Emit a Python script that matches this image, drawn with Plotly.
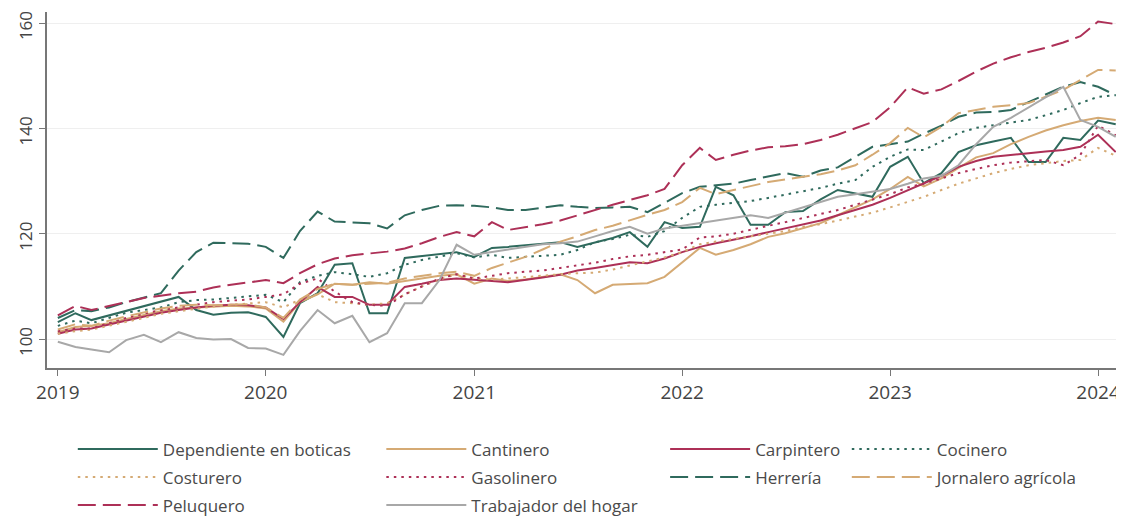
import pandas as pd
import plotly.graph_objects as go

dates = pd.date_range("2019-01-01", periods=62, freq="MS")

dependiente = [103.2, 104.9, 103.6, 104.5, 105.3, 106.2, 107, 108, 105.5, 104.6, 105, 105.1,
               104.2, 100.4, 106.8, 108.7, 114.1, 114.4, 104.9, 104.9, 115.4, 115.8, 116.2, 116.5,
               115.6, 117.3, 117.5, 117.8, 118.1, 118.4, 117.5, 118.4, 119.2, 120.3, 117.5, 122.2,
               121.1, 121.3, 128.9, 127.3, 121.7, 121.7, 124.1, 124.3, 126.5, 128.3, 127.7, 127,
               132.7, 134.6, 129.6, 131.5, 135.5, 136.8, 137.5, 138.2, 133.6, 133.6, 138.2, 137.8,
               141.5, 140.8]
cantinero = [101.3, 102.3, 102.5, 103, 103.8, 104.5, 105.3, 105.8, 106, 106.2, 106.3, 106.2,
             105.8, 103.3, 107, 108.5, 110.5, 110.3, 110.8, 110.5, 111, 111.5, 112, 112.3,
             110.5, 111.5, 111, 111.3, 111.8, 112.3, 111.2, 108.7, 110.3, 110.5, 110.6, 111.8,
             114.6, 117.3, 116, 116.9, 118, 119.4, 120.1, 121, 122, 123.5, 125, 126.5,
             128.5, 130.8, 129, 130.5, 132.5, 134.5, 135.3, 137, 138.4, 139.6, 140.6, 141.4,
             142, 141.6]
carpintero = [101, 101.8, 102, 102.8, 103.5, 104.3, 105, 105.5, 106, 106.3, 106.5, 106.4,
              106, 103.8, 107, 109.9, 108, 108, 106.5, 106.5, 109.9, 110.5, 111.2, 111.5,
              111.2, 111, 110.8, 111.2, 111.7, 112.2, 113, 113.5, 114, 114.6, 114.4, 115.3,
              116.5, 117.5, 118.2, 118.8, 119.5, 120.3, 121, 121.8, 122.5, 123.5, 124.5, 125.5,
              126.8, 128.3, 129.6, 131, 132.7, 133.8, 134.6, 135, 135.3, 135.6, 135.9, 136.5,
              138.8, 135.5]
cocinero = [102.5, 103.5, 103, 104, 105, 105.5, 106, 107, 107.4, 107.5, 107.8, 108,
            108.4, 107, 110.8, 112, 112.7, 112.3, 111.8, 112.5, 114.1, 115, 115.6, 116.3,
            115.5, 116, 115.4, 115.6, 115.8, 116, 116.9, 118.4, 119, 119.8, 119.4, 120.5,
            123, 125.1, 125.5, 125.8, 126.2, 126.8, 127.4, 128, 128.7, 129.5, 130.2, 132.7,
            134.6, 136, 135.9, 137.5, 139.1, 140.1, 140.6, 141.2, 141.6, 142.5, 143.5, 144.8,
            146, 146.3]
costurero = [101, 101.5, 101.8, 102.5, 103.3, 104, 104.8, 105.3, 105.8, 106.2, 106.5, 106.8,
             107, 106, 107.5, 108.5, 107, 106.8, 106.5, 106.8, 108.5, 110, 111.3, 112.3,
             111.5, 111.3, 111.5, 111.8, 112, 112.3, 112.5, 112.6, 113.2, 114, 114.8, 115.5,
             116.5, 118, 118.5, 119, 119.5, 120, 120.5, 121.3, 121.8, 122.5, 123.2, 124,
             125, 126, 127, 128.3, 129.5, 130.5, 131.5, 132.3, 133, 133.4, 133.8, 134,
             136.3, 134.8]
gasolinero = [101.5, 102, 102, 103, 104, 104.8, 105.5, 106, 106.5, 107, 107.3, 107.5,
              108, 108.5, 110.5, 111.5, 109, 107, 106.5, 106.3, 108.5, 110, 111.5, 112.3,
              111.5, 112, 112.5, 112.8, 113, 113.5, 114, 114.5, 115.2, 115.7, 116, 116.5,
              117, 119.3, 119.5, 120, 120.8, 121.5, 122.2, 123, 123.8, 124.5, 125.5, 126.5,
              127.5, 128.8, 129.5, 130.5, 131.5, 132.3, 133, 133.5, 133.8, 134, 133, 135,
              140.5, 138.7]
herreria = [104, 105.5, 105.3, 106, 107, 107.8, 108.7, 113, 116.5, 118.3, 118.2, 118.1,
            117.5, 115.4, 120.5, 124.2, 122.3, 122.2, 122, 121, 123.5, 124.5, 125.3, 125.4,
            125.3, 125, 124.5, 124.5, 125, 125.4, 125.1, 124.9, 125, 125.1, 124.1, 125.8,
            127.7, 128.9, 129.2, 129.5, 130.2, 130.8, 131.5, 130.8, 132, 132.6, 134.6, 136.5,
            137, 137.5, 139, 140.5, 142.2, 143, 143.1, 143.5, 145, 146.5, 147.9, 148.8,
            147.9, 146.3]
jornalero = [101.8, 102.8, 102.5, 103.5, 104.3, 105, 105.8, 106.3, 106.5, 106.4, 106.5, 106.6,
             106, 104, 107.5, 109.5, 110.5, 110.3, 110.5, 110.7, 111.5, 112, 112.5, 112.8,
             112, 113.5, 114.5, 115.6, 117, 118.5, 119.5, 120.7, 121.5, 122.6, 123.6, 124.5,
             126, 128.7, 127.5, 128.3, 129, 129.8, 130.3, 130.8, 131.3, 132, 133, 135,
             137.2, 140.1, 138.3, 140.3, 142.9, 143.5, 144.1, 144.4, 144.8, 146, 147.3, 149.2,
             151.1, 151]
peluquero = [104.5, 106.3, 105.5, 106.2, 107, 107.8, 108.3, 108.7, 109, 109.8, 110.3, 110.7,
             111.2, 110.6, 112.5, 114.2, 115.3, 115.9, 116.3, 116.6, 117.2, 118.2, 119.4, 120.3,
             119.5, 122.2, 120.7, 121.2, 121.8, 122.5, 123.5, 124.4, 125.5, 126.4, 127.3, 128.5,
             133, 136.3, 134, 135, 135.8, 136.4, 136.6, 137, 137.8, 138.8, 140, 141.2,
             144, 147.8, 146.6, 147.4, 149, 150.8, 152.3, 153.5, 154.5, 155.3, 156.3, 157.5,
             160.3, 159.8]
trabajador = [99.5, 98.5, 98, 97.5, 99.8, 100.8, 99.4, 101.3, 100.2, 99.9, 100, 98.3,
              98.2, 97, 101.5, 105.5, 103, 104.4, 99.4, 101.1, 106.8, 106.8, 111.2, 117.9,
              116, 116.5, 117, 117.5, 118, 118.2, 118.5, 119.5, 120.5, 121.3, 120, 121,
              121.5, 122, 122.5, 123, 123.5, 123, 124, 125, 126, 127, 127.5, 128,
              128.5, 129.5, 130.5, 131, 133, 137, 140.3, 142, 144, 146, 147.9, 141.6,
              140.3, 138.4]

TEAL = "#2f6a5d"
TAN = "#d5aa74"
CRIMSON = "#ad3057"
GRAY = "#a8a8a8"
SOLID = "solid"
DOT = "2.5px,5px"
DASH = "18px,7px"

series = [
    ("Dependiente en boticas", dependiente, TEAL, SOLID, "legend"),
    ("Cantinero", cantinero, TAN, SOLID, "legend2"),
    ("Carpintero", carpintero, CRIMSON, SOLID, "legend3"),
    ("Cocinero", cocinero, TEAL, DOT, "legend4"),
    ("Costurero", costurero, TAN, DOT, "legend"),
    ("Gasolinero", gasolinero, CRIMSON, DOT, "legend2"),
    ("Herrería", herreria, TEAL, DASH, "legend3"),
    ("Jornalero agrícola", jornalero, TAN, DASH, "legend4"),
    ("Peluquero", peluquero, CRIMSON, DASH, "legend"),
    ("Trabajador del hogar", trabajador, GRAY, SOLID, "legend2"),
]

fig = go.Figure()
for name, vals, col, dash, leg in series:
    fig.add_trace(go.Scatter(
        x=dates, y=vals, mode="lines", name=name, legend=leg, legendgroup=name,
        line=dict(color=col, width=2, dash=dash),
    ))

FONT = "Open Sans"
leg_common = dict(orientation="v", yanchor="top", y=-0.178, xanchor="left",
                  bgcolor="rgba(0,0,0,0)", font=dict(family=FONT, size=17, color="#4a4a4a"),
                  itemwidth=80, tracegroupgap=3, traceorder="grouped")

fig.update_layout(
    width=1116, height=508,
    margin=dict(l=39, r=2, t=4, b=148, autoexpand=False),
    plot_bgcolor="white", paper_bgcolor="white",
    font=dict(family=FONT, size=16, color="#444444"),
    showlegend=True,
    legend=dict(x=0.024, **leg_common),
    legend2=dict(x=0.311, **leg_common),
    legend3=dict(x=0.575, **leg_common),
    legend4=dict(x=0.744, **leg_common),
    xaxis=dict(
        type="date", range=["2018-12-13", "2024-02-12"],
        tickvals=["2019-01-01", "2020-01-01", "2021-01-01", "2022-01-01", "2023-01-01", "2024-01-01"],
        ticktext=["2019", "2020", "2021", "2022", "2023", "2024"],
        showgrid=False, showline=True, linecolor="#777777", linewidth=1.5,
        ticks="outside", ticklen=6, tickcolor="#777777", automargin=False,
        ticklabeloverflow="allow",
        tickfont=dict(size=19, color="#444444"), zeroline=False,
    ),
    yaxis=dict(
        range=[94.5, 162.1], tickvals=[100, 120, 140, 160],
        showgrid=True, gridcolor="#efefef", gridwidth=1,
        showline=True, linecolor="#777777", linewidth=1.5,
        ticks="outside", ticklen=6, tickcolor="#777777", automargin=False,
        ticklabeloverflow="allow", ticklabelshift=5,
        tickangle=-90, tickfont=dict(size=17, color="#444444"), zeroline=False,
    ),
)

fig.write_html("out.html")
